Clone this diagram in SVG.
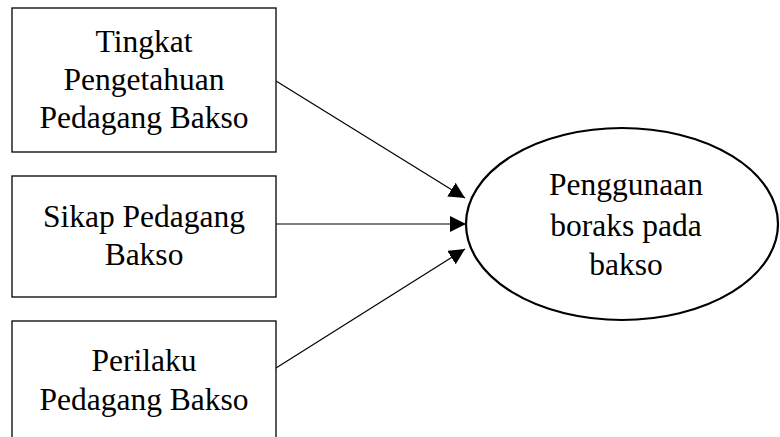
<svg xmlns="http://www.w3.org/2000/svg" width="780" height="437" viewBox="0 0 780 437">
<style>
.box{fill:#fff;stroke:#000;stroke-width:1.3}
.ell{fill:#fff;stroke:#000;stroke-width:2.2}
.t{font-family:"Liberation Serif","Times New Roman",serif;font-size:31.5px;fill:#000;text-anchor:middle}
.c{stroke:#000;stroke-width:1.2;fill:none;marker-end:url(#ah)}
</style>
<defs>
<marker id="ah" viewBox="0 0 10 10" refX="10" refY="5" markerWidth="16" markerHeight="16" markerUnits="userSpaceOnUse" orient="auto">
<path d="M0,0 L10,5 L0,10 Z" fill="#000"/>
</marker>
</defs>
<rect width="780" height="437" fill="#fff"/>
<g id="connectors">
<line class="c" x1="276" y1="81" x2="465" y2="198"/>
<line class="c" x1="276" y1="224" x2="466" y2="224"/>
<line class="c" x1="276" y1="368" x2="465" y2="249"/>
</g>
<g id="node1">
<rect class="box" x="12" y="8" width="264" height="144"/>
<text class="t" x="144" y="52">Tingkat</text>
<text class="t" x="144" y="90">Pengetahuan</text>
<text class="t" x="144" y="128">Pedagang Bakso</text>
</g>
<g id="node2">
<rect class="box" x="12" y="176" width="264" height="121"/>
<text class="t" x="144" y="227">Sikap Pedagang</text>
<text class="t" x="144" y="265">Bakso</text>
</g>
<g id="node3">
<rect class="box" x="12" y="321" width="264" height="130"/>
<text class="t" x="144" y="371">Perilaku</text>
<text class="t" x="144" y="410">Pedagang Bakso</text>
</g>
<g id="node4">
<ellipse class="ell" cx="622" cy="224" rx="156" ry="96"/>
<text class="t" x="626" y="195">Penggunaan</text>
<text class="t" x="626" y="236">boraks pada</text>
<text class="t" x="626" y="275">bakso</text>
</g>
</svg>
